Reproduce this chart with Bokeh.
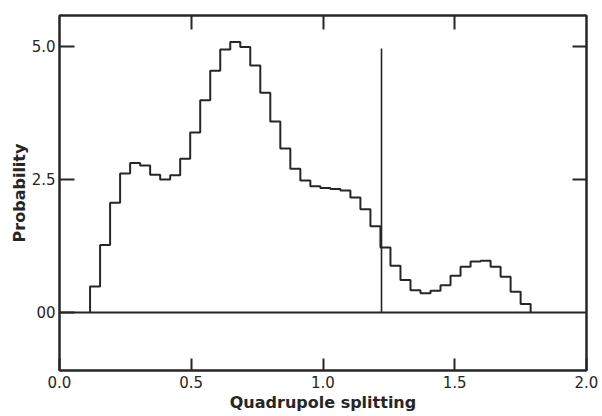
from bokeh.plotting import figure
from bokeh.models import FixedTicker, LinearAxis, Range1d, Span
from bokeh.embed import file_html
from bokeh.resources import INLINE

# ---- data ----
bin_start = 0.116
bin_width = 0.038
probability = [0.49, 1.27, 2.06, 2.61, 2.81, 2.76, 2.59, 2.50, 2.58, 2.89,
               3.38, 3.99, 4.54, 4.94, 5.08, 4.99, 4.64, 4.13, 3.59, 3.08,
               2.70, 2.48, 2.37, 2.34, 2.32, 2.29, 2.16, 1.94, 1.62, 1.22,
               0.88, 0.61, 0.42, 0.36, 0.41, 0.51, 0.69, 0.86, 0.96, 0.97,
               0.86, 0.67, 0.39, 0.16]
marker_x = 1.222
marker_top = 4.96
x_ticks = [0.0, 0.5, 1.0, 1.5, 2.0]
x_tick_labels = ["0.0", "0.5", "1.0", "1.5", "2.0"]
y_ticks = [0.0, 2.5, 5.0]
y_tick_labels = ["00", "2.5", "5.0"]

edges = [bin_start + i * bin_width for i in range(len(probability) + 1)]
step_x = [edges[0]] + edges
step_y = [0.0] + probability + [0.0]

INK = "#262626"

p = figure(width=602, height=416, output_backend="svg", toolbar_location=None,
           x_range=Range1d(0, 2), y_range=Range1d(-1.09, 5.58),
           min_border_left=59, min_border_right=16, min_border_top=15, min_border_bottom=46,
           x_axis_label="Quadrupole splitting", y_axis_label="Probability")
p.grid.visible = False
p.background_fill_color = "white"
p.border_fill_color = "white"
p.outline_line_color = INK
p.outline_line_width = 2

# baseline and histogram
p.add_layout(Span(location=0, dimension="width", line_color=INK, line_width=2))
p.step(x=step_x, y=step_y, mode="after", line_color=INK, line_width=2)
p.segment(x0=[marker_x], y0=[0], x1=[marker_x], y1=[marker_top], line_color=INK, line_width=1.6)

def style(ax, ticks, tick_len):
    ax.ticker = FixedTicker(ticks=ticks)
    ax.major_tick_in = tick_len
    ax.major_tick_out = 0
    ax.minor_tick_in = 0
    ax.minor_tick_out = 0
    ax.major_tick_line_color = INK
    ax.major_tick_line_width = 2
    ax.axis_line_color = INK
    ax.axis_line_width = 2
    ax.major_label_text_font = "DejaVu Sans"
    ax.major_label_text_font_size = "15px"
    ax.major_label_text_color = INK
    ax.axis_label_text_font = "DejaVu Sans"
    ax.axis_label_text_font_size = "16px"
    ax.axis_label_text_font_style = "bold"
    ax.axis_label_text_color = INK

xa = p.xaxis[0]
style(xa, x_ticks, 12)
xa.major_label_overrides = dict(zip(x_ticks, x_tick_labels))
xa.major_label_standoff = 5
xa.axis_label_standoff = 2

ya = p.yaxis[0]
style(ya, y_ticks, 15)
ya.major_label_overrides = dict(zip(y_ticks, y_tick_labels))
ya.major_label_standoff = 4
ya.axis_label_standoff = 0
ya.major_label_orientation = "horizontal"

top = LinearAxis()
style(top, x_ticks[1:-1], 14)
top.major_label_overrides = {t: "" for t in x_ticks[1:-1]}
top.major_label_standoff = 0
p.add_layout(top, "above")

right = LinearAxis()
style(right, y_ticks[1:], 14)
right.major_label_overrides = {t: "" for t in y_ticks[1:]}
right.major_label_standoff = 0
p.add_layout(right, "right")

open("out.html", "w").write(file_html(p, INLINE))
